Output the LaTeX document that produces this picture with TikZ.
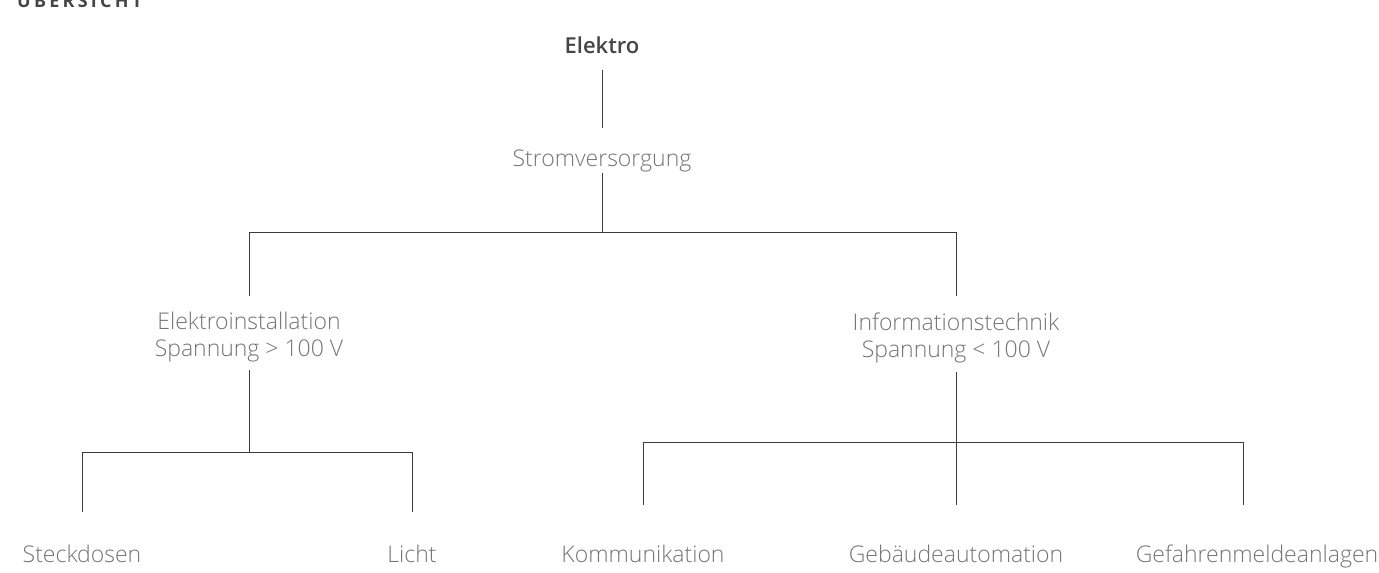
\documentclass[tikz,border=0pt]{standalone}
\usepackage{fontspec}
\setmainfont{Open Sans}[UprightFont={* Light}, BoldFont={* Semibold}]
\newfontfamily\headfont{Open Sans}[UprightFont={* Bold}, LetterSpace=18]
\usepackage{tikz}
\usetikzlibrary{positioning,calc}
\definecolor{labelgray}{HTML}{747474}
\definecolor{linegray}{HTML}{3C3C3C}
\definecolor{headgray}{HTML}{454545}

\begin{document}
\begin{tikzpicture}[
    x=1pt, y=1pt,
    label/.style={inner sep=0pt, text=labelgray, align=center,
                  font=\fontsize{23}{27}\selectfont},
    leaf/.style={label, anchor=base, text height=17pt, text depth=5.5pt},
    root/.style={leaf, text=headgray, font=\fontsize{22}{27}\selectfont\bfseries},
    link/.style={draw=linegray, line width=1pt}
  ]
  \useasboundingbox (0,0) rectangle (1379,-573);

  % Header
  \node[anchor=base west, inner sep=0pt, text=headgray,
        font=\fontsize{18}{22}\headfont] (head) at (17,-7) {ÜBERSICHT};

  % Nodes
  \node[root]  (elektro)  at (602,-53)  {Elektro};
  \node[leaf]  (strom)    at (602,-166) {Stromversorgung};
  \node[label] (elinst)   at (249,-337.5) {Elektroinstallation\\Spannung > 100 V};
  \node[label] (info)     at (956,-337.5) {Informationstechnik\\Spannung < 100 V};
  \node[leaf]  (steck)    at (82,-562)   {Steckdosen};
  \node[leaf]  (licht)    at (412,-562)  {Licht};
  \node[leaf]  (komm)     at (643,-562)  {Kommunikation};
  \node[leaf]  (gebaeude) at (956,-562)  {Gebäudeautomation};
  \node[leaf]  (gefahr)   at (1257,-562) {Gefahrenmeldeanlagen};

  % Elektro -> Stromversorgung
  \draw[link] ([yshift=-11.5pt]elektro.south) -- ([yshift=21pt]strom.north);

  % Stromversorgung -> Elektroinstallation / Informationstechnik
  \draw[link] ([yshift=-1pt]strom.south) -- ++(0,-60) coordinate (fork1);
  \draw[link] ([yshift=16.5pt]elinst.north) |- (fork1)
              -| ([yshift=16.5pt]info.north);

  % Elektroinstallation -> Steckdosen / Licht
  \draw[link] ([yshift=-7.5pt]elinst.south) -- ++(0,-82) coordinate (fork2);
  \draw[link] ([yshift=33pt]steck.north) |- (fork2)
              -| ([yshift=33pt]licht.north);

  % Informationstechnik -> Kommunikation / Gebaeude / Gefahren
  \draw[link] ([yshift=-9.5pt]info.south) -- ++(0,-70) coordinate (fork3)
              -- ([yshift=40pt]gebaeude.north);
  \draw[link] ([yshift=40pt]komm.north) |- (fork3)
              -| ([xshift=-14pt,yshift=40pt]gefahr.north);
\end{tikzpicture}
\end{document}
